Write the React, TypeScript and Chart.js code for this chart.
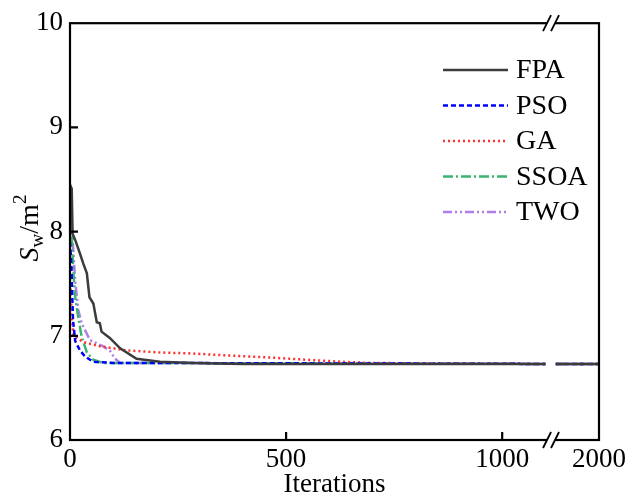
import React, { useEffect, useRef } from 'react';
import { Chart, registerables } from 'chart.js';

Chart.register(...registerables);

// ---- data ----
const seriesNames = ['FPA', 'PSO', 'GA', 'SSOA', 'TWO'];

const fpaIter = [0, 4, 6, 12, 23, 31, 39, 45, 54, 62, 69, 73, 92, 116, 154, 208, 284, 400, 1100, 1900, 2000];
const fpaVal = [8.45, 8.41, 7.98, 7.92, 7.79, 7.69, 7.6, 7.37, 7.31, 7.13, 7.12, 7.04, 6.98, 6.88, 6.78, 6.75, 6.74, 6.73, 6.73, 6.73, 6.73];

const psoIter = [0, 3, 7, 12, 23, 35, 54, 100, 1100, 1900, 2000];
const psoVal = [7.9, 7.7, 7.15, 6.95, 6.86, 6.8, 6.75, 6.74, 6.73, 6.73, 6.73];

const gaIter = [0, 4, 8, 12, 31, 69, 131, 208, 284, 370, 469, 548, 631, 693, 802, 1100, 1900, 2000];
const gaVal = [7.55, 7.2, 7.0, 6.99, 6.94, 6.9, 6.86, 6.84, 6.83, 6.81, 6.79, 6.77, 6.75, 6.74, 6.735, 6.73, 6.73, 6.73];

const ssoaIter = [0, 4, 8, 12, 19, 27, 39, 54, 76, 1100, 1900, 2000];
const ssoaVal = [8.3, 7.95, 7.6, 7.37, 7.18, 6.99, 6.84, 6.77, 6.74, 6.73, 6.73, 6.73];

const twoIter = [0, 6, 12, 19, 27, 46, 76, 92, 104, 116, 1100, 1900, 2000];
const twoVal = [8.1, 7.92, 7.53, 7.25, 7.12, 6.96, 6.9, 6.86, 6.78, 6.74, 6.73, 6.73, 6.73];

const xTickValues = [0, 500, 1000, 2000];
const yMin = 6;
const yMax = 10;

// broken axis: 1100..1900 removed
const BREAK_START = 1100;
const BREAK_END = 1900;
const BREAK_SHIFT = 776;
const axisX = (i: number) => (i <= BREAK_START ? i : i - BREAK_SHIFT);
const BREAK_POS = 1113;

const toPoints = (iters: number[], vals: number[]) => {
  const pts: { x: number; y: number | null }[] = [];
  iters.forEach((it, k) => {
    if (it >= BREAK_END && k > 0 && iters[k - 1] <= BREAK_START) {
      pts.push({ x: BREAK_POS, y: null });
    }
    pts.push({ x: axisX(it), y: vals[k] });
  });
  return pts;
};

const FONT = '"Liberation Serif", "Times New Roman", serif';

const styles = [
  { color: '#3c3c3c', dash: [] as number[] },
  { color: '#0000ff', dash: [5, 3] },
  { color: '#ff3030', dash: [2, 3] },
  { color: '#3cb371', dash: [10, 3, 2, 3] },
  { color: '#b07ee8', dash: [9, 3, 2, 3, 2, 3] },
];

const frame = {
  id: 'frame',
  afterDraw(chart: any) {
    const { ctx, chartArea } = chart;
    const { left, right, top, bottom } = chartArea;
    const xs = chart.scales.x;
    const ys = chart.scales.y;
    ctx.save();
    ctx.strokeStyle = '#000';
    ctx.lineWidth = 2.2;
    ctx.strokeRect(left, top, right - left, bottom - top);
    // inward ticks
    ctx.beginPath();
    [7, 8, 9].forEach((v) => {
      const y = ys.getPixelForValue(v);
      ctx.moveTo(left, y);
      ctx.lineTo(left + 8, y);
    });
    [500, 1000].forEach((v) => {
      const x = xs.getPixelForValue(axisX(v));
      ctx.moveTo(x, bottom);
      ctx.lineTo(x, bottom - 8);
    });
    ctx.stroke();
    // break marks
    const bx = xs.getPixelForValue(BREAK_POS);
    [top, bottom].forEach((yy) => {
      ctx.fillStyle = '#fff';
      ctx.fillRect(bx - 4, yy - 2, 8, 4);
      ctx.beginPath();
      [-4, 4].forEach((off) => {
        ctx.moveTo(bx + off - 4, yy + 8);
        ctx.lineTo(bx + off + 4, yy - 8);
      });
      ctx.lineWidth = 1.8;
      ctx.stroke();
    });
    // legend
    ctx.lineWidth = 2.5;
    ctx.font = `28px ${FONT}`;
    ctx.textBaseline = 'middle';
    ctx.textAlign = 'left';
    chart.data.datasets.forEach((ds: any, i: number) => {
      const y = 70 + i * 35.5;
      ctx.beginPath();
      ctx.setLineDash(ds.borderDash || []);
      ctx.strokeStyle = ds.borderColor;
      ctx.moveTo(443, y);
      ctx.lineTo(508, y);
      ctx.stroke();
      ctx.setLineDash([]);
      ctx.fillStyle = '#000';
      ctx.fillText(ds.label, 516, y + 1);
    });
    // y title: S_w/m^2
    ctx.translate(38, 228);
    ctx.rotate(-Math.PI / 2);
    const parts = [
      { t: 'S', f: `italic 28px ${FONT}`, dy: 0 },
      { t: 'w', f: `19px ${FONT}`, dy: 5 },
      { t: '/m', f: `28px ${FONT}`, dy: 0 },
      { t: '2', f: `19px ${FONT}`, dy: -12 },
    ];
    let total = 0;
    parts.forEach((p) => {
      ctx.font = p.f;
      total += ctx.measureText(p.t).width;
    });
    let x = -total / 2;
    ctx.textBaseline = 'alphabetic';
    parts.forEach((p) => {
      ctx.font = p.f;
      ctx.fillText(p.t, x, p.dy);
      x += ctx.measureText(p.t).width;
    });
    ctx.restore();
  },
};

export default function App() {
  const ref = useRef<HTMLCanvasElement>(null);
  useEffect(() => {
    const canvas = ref.current!;
    const iterSets = [fpaIter, psoIter, gaIter, ssoaIter, twoIter];
    const valSets = [fpaVal, psoVal, gaVal, ssoaVal, twoVal];
    const chart = new Chart(canvas, {
      type: 'line',
      data: {
        datasets: seriesNames.map((name, i) => ({
          label: name,
          data: toPoints(iterSets[i], valSets[i]),
          borderColor: styles[i].color,
          borderDash: styles[i].dash,
          borderWidth: 2.5,
          pointRadius: 0,
          fill: false,
          tension: 0,
          spanGaps: false,
        })),
      },
      options: {
        responsive: false,
        animation: false,
        events: [],
        layout: { padding: { top: 23, right: 30, left: 0, bottom: 0 } },
        plugins: { legend: { display: false }, tooltip: { enabled: false } },
        scales: {
          x: {
            type: 'linear',
            min: 0,
            max: axisX(2000),
            afterBuildTicks: (scale: any) => {
              scale.ticks = xTickValues.map((v) => ({ value: axisX(v) }));
            },
            afterFit: (scale: any) => {
              scale.height = 58;
            },
            ticks: {
              color: '#000',
              font: { family: FONT, size: 27 },
              padding: 4,
              maxRotation: 0,
              autoSkip: false,
              callback: (_v: any, idx: number) => String(xTickValues[idx]),
            },
            grid: { display: false, drawTicks: false },
            border: { display: false },
            title: {
              display: true,
              text: 'Iterations',
              color: '#000',
              font: { family: FONT, size: 27 },
              padding: { top: 0, bottom: -3 },
            },
          },
          y: {
            type: 'linear',
            min: yMin,
            max: yMax,
            afterFit: (scale: any) => {
              scale.width = 70;
            },
            ticks: {
              stepSize: 1,
              color: '#000',
              font: { family: FONT, size: 27 },
              padding: 7,
            },
            grid: { display: false, drawTicks: false },
            border: { display: false },
          },
        },
      },
      plugins: [frame],
    } as any);
    return () => chart.destroy();
  }, []);
  return (
    <div style={{ position: 'absolute', left: 0, top: 0, width: 630, height: 498, background: '#fff' }}>
      <canvas ref={ref} width={630} height={498} />
    </div>
  );
}
